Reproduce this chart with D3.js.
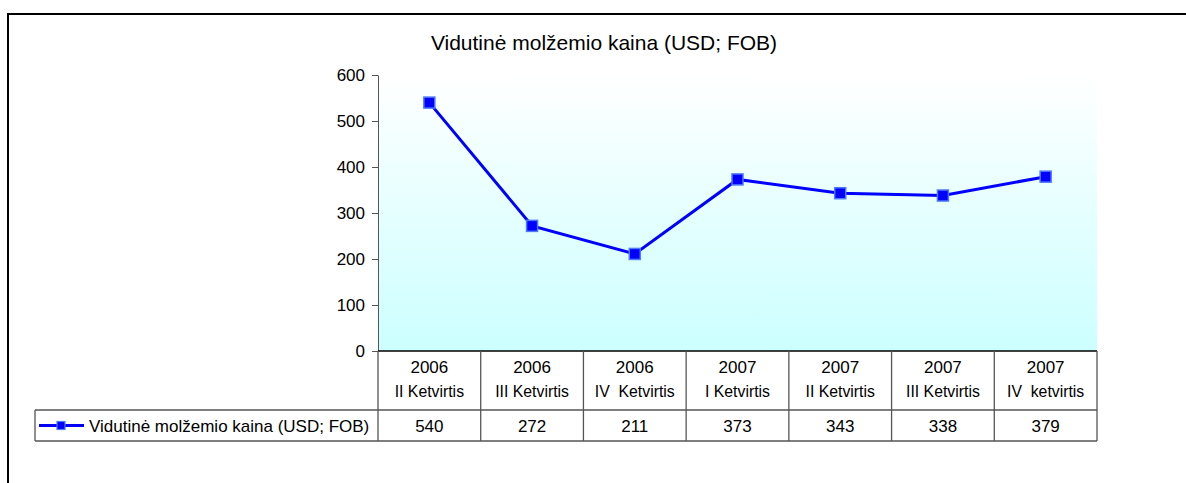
<!DOCTYPE html>
<html>
<head>
<meta charset="utf-8">
<script src="https://cdn.jsdelivr.net/npm/d3@7"></script>
<style>
  body { margin: 0; background: #fff; }
  text { font-family: Arial, "Liberation Sans", sans-serif; fill: #000; }
</style>
</head>
<body>
<div id="chart"></div>
<script>
var title = "Vidutinė molžemio kaina (USD; FOB)";
var seriesName = "Vidutinė molžemio kaina (USD; FOB)";
var years = ["2006", "2006", "2006", "2007", "2007", "2007", "2007"];
var quarters = ["II Ketvirtis", "III Ketvirtis", "IV  Ketvirtis", "I Ketvirtis", "II Ketvirtis", "III Ketvirtis", "IV  ketvirtis"];
var values = [540, 272, 211, 373, 343, 338, 379];
var yTicks = [0, 100, 200, 300, 400, 500, 600];

var W = 1186, H = 483;
var plot = {left: 378, right: 1097, top: 75, bottom: 351};
var headerBottom = 410, tableBottom = 441, legendLeft = 35;
var lineColor = "#555";

var svg = d3.select("#chart").append("svg")
  .attr("width", W)
  .attr("height", H);

var grad = svg.append("defs").append("linearGradient")
  .attr("id", "bg")
  .attr("x1", 0).attr("y1", 0).attr("x2", 0).attr("y2", 1);
grad.append("stop").attr("offset", "0%").attr("stop-color", "#ffffff");
grad.append("stop").attr("offset", "100%").attr("stop-color", "#ccffff");

// outer frame (only top and left visible)
svg.append("path")
  .attr("d", "M8," + H + "V14H" + W)
  .attr("fill", "none")
  .attr("stroke", "#000")
  .attr("stroke-width", 2);

var x = d3.scaleBand()
  .domain(d3.range(values.length))
  .range([plot.left, plot.right]);
var y = d3.scaleLinear()
  .domain([0, 600])
  .range([plot.bottom, plot.top]);

svg.append("rect")
  .attr("x", plot.left)
  .attr("y", plot.top)
  .attr("width", plot.right - plot.left)
  .attr("height", plot.bottom - plot.top)
  .attr("fill", "url(#bg)");

svg.append("text")
  .attr("x", 604)
  .attr("y", 50)
  .attr("text-anchor", "middle")
  .style("font-size", "21px")
  .text(title);

var yAxis = svg.append("g")
  .attr("transform", "translate(" + plot.left + ",0)")
  .call(d3.axisLeft(y).tickValues(yTicks).tickSize(6).tickPadding(7).tickSizeOuter(0));
yAxis.select(".domain").attr("stroke", lineColor);
yAxis.selectAll(".tick line").attr("stroke", lineColor);
yAxis.selectAll(".tick text")
  .style("font-size", "17px")
  .style("font-family", "Arial, 'Liberation Sans', sans-serif")
  .attr("fill", "#000");

// data table
var table = svg.append("g");
table.append("line")
  .attr("x1", plot.left).attr("x2", plot.right)
  .attr("y1", plot.bottom).attr("y2", plot.bottom)
  .attr("stroke", "#000").attr("stroke-width", 1.3);
table.append("path")
  .attr("d", "M" + legendLeft + "," + headerBottom + "H" + plot.right +
             "M" + legendLeft + "," + tableBottom + "H" + plot.right +
             "M" + legendLeft + "," + headerBottom + "V" + tableBottom)
  .attr("fill", "none")
  .attr("stroke", lineColor)
  .attr("stroke-width", 1.3);
table.selectAll(".sep")
  .data(d3.range(values.length + 1))
  .enter().append("line")
  .attr("class", "sep")
  .attr("x1", d => d < values.length ? x(d) : plot.right)
  .attr("x2", d => d < values.length ? x(d) : plot.right)
  .attr("y1", plot.bottom)
  .attr("y2", tableBottom)
  .attr("stroke", lineColor)
  .attr("stroke-width", 1.3);

var cx = i => x(i) + x.bandwidth() / 2;

table.selectAll(".yr")
  .data(years)
  .enter().append("text")
  .attr("class", "yr")
  .attr("x", (d, i) => cx(i))
  .attr("y", 373)
  .attr("text-anchor", "middle")
  .style("font-size", "17px")
  .text(d => d);

table.selectAll(".q")
  .data(quarters)
  .enter().append("text")
  .attr("class", "q")
  .attr("transform", (d, i) => "translate(" + cx(i) + ",397) scale(0.93,1)")
  .attr("text-anchor", "middle")
  .style("font-size", "17px")
  .style("white-space", "pre")
  .text(d => d);

table.selectAll(".val")
  .data(values)
  .enter().append("text")
  .attr("class", "val")
  .attr("x", (d, i) => cx(i))
  .attr("y", 432)
  .attr("text-anchor", "middle")
  .style("font-size", "17px")
  .text(d => d);

// legend key inside the table
var ly = (headerBottom + tableBottom) / 2;
table.append("line")
  .attr("x1", 39).attr("x2", 84)
  .attr("y1", ly).attr("y2", ly)
  .attr("stroke", "#0000ff").attr("stroke-width", 3);
table.append("rect")
  .attr("x", 61 - 4).attr("y", ly - 4)
  .attr("width", 8).attr("height", 8)
  .attr("fill", "#0000ff")
  .attr("stroke", "#4d79ff").attr("stroke-width", 1.2);
table.append("text")
  .attr("x", 89)
  .attr("y", 432)
  .style("font-size", "17px")
  .text(seriesName);

// series line
var line = d3.line()
  .x((d, i) => cx(i))
  .y(d => y(d));
svg.append("path")
  .datum(values)
  .attr("d", line)
  .attr("fill", "none")
  .attr("stroke", "#0000ff")
  .attr("stroke-width", 3);

svg.selectAll(".mk")
  .data(values)
  .enter().append("rect")
  .attr("class", "mk")
  .attr("x", (d, i) => cx(i) - 5.5)
  .attr("y", d => y(d) - 5.5)
  .attr("width", 11)
  .attr("height", 11)
  .attr("fill", "#0000ff")
  .attr("stroke", "#4d79ff")
  .attr("stroke-width", 1.5);
</script>
</body>
</html>
